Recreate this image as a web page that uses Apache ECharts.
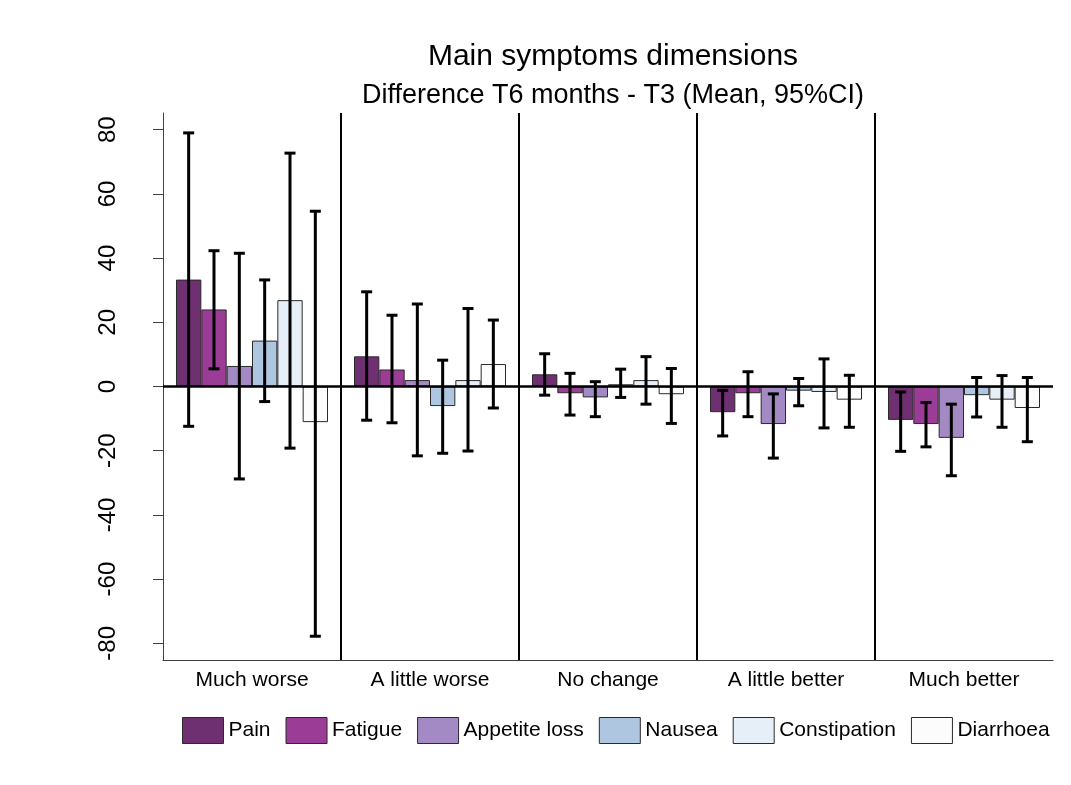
<!DOCTYPE html>
<html>
<head>
<meta charset="utf-8">
<script src="https://cdn.jsdelivr.net/npm/echarts@6/dist/echarts.min.js"></script>
<style>
  html, body { margin: 0; padding: 0; background: #fff; }
  #main-chart { width: 1071px; height: 785px; }
</style>
</head>
<body>
<div id="main-chart"></div>
<script>
const categories = ['Much worse', 'A little worse', 'No change', 'A little better', 'Much better'];
const symptoms = ['Pain', 'Fatigue', 'Appetite loss', 'Nausea', 'Constipation', 'Diarrhoea'];
const colors = ['#6e3070', '#9b3d96', '#a48ac4', '#aec6e0', '#e6eef7', '#fcfcfc'];
const yTicks = [-80, -60, -40, -20, 0, 20, 40, 60, 80];

// means
const pain = [33.3, 9.4, 3.8, -8.0, -10.4];
const fatigue = [24.0, 5.3, -2.1, -2.1, -11.7];
const appetite = [6.4, 2.0, -3.4, -11.7, -16.0];
const nausea = [14.3, -6.1, 0.7, -1.3, -2.7];
const constipation = [26.9, 2.0, 2.0, -1.7, -4.1];
const diarrhoea = [-11.1, 7.0, -2.4, -4.1, -6.7];

// 95% CI bounds
const painLo = [-12.4, -10.5, -2.7, -15.4, -20.2];
const painHi = [79.0, 29.5, 10.2, -1.2, -1.7];
const fatigueLo = [5.5, -11.3, -8.9, -9.4, -18.8];
const fatigueHi = [42.3, 22.2, 4.1, 4.6, -5.0];
const appetiteLo = [-28.8, -21.6, -9.4, -22.3, -27.8];
const appetiteHi = [41.5, 25.7, 1.5, -2.3, -5.5];
const nauseaLo = [-4.7, -20.8, -3.4, -6.0, -9.5];
const nauseaHi = [33.2, 8.2, 5.4, 2.5, 2.8];
const constipationLo = [-19.2, -20.1, -5.5, -12.9, -12.7];
const constipationHi = [72.7, 24.3, 9.3, 8.6, 3.4];
const diarrhoeaLo = [-77.8, -6.7, -11.5, -12.7, -17.2];
const diarrhoeaHi = [54.6, 20.7, 5.6, 3.5, 2.8];

const means = [pain, fatigue, appetite, nausea, constipation, diarrhoea];
const lows = [painLo, fatigueLo, appetiteLo, nauseaLo, constipationLo, diarrhoeaLo];
const highs = [painHi, fatigueHi, appetiteHi, nauseaHi, constipationHi, diarrhoeaHi];

const CAT_GAP = 0.146;
const FONT = '"Liberation Sans", Arial, sans-serif';

function errorBar(k) {
  return function (params, api) {
    const c = api.value(0);
    const lo = api.coord([c, api.value(1)]);
    const hi = api.coord([c, api.value(2)]);
    const band = api.size([1, 0])[0];
    const bw = band * (1 - CAT_GAP) / symptoms.length;
    const x = lo[0] + (k - (symptoms.length - 1) / 2) * bw;
    const cap = 5.5;
    const style = { stroke: '#000', lineWidth: 3 };
    return {
      type: 'group',
      children: [
        { type: 'line', shape: { x1: x, y1: lo[1], x2: x, y2: hi[1] }, style: style },
        { type: 'line', shape: { x1: x - cap, y1: lo[1], x2: x + cap, y2: lo[1] }, style: style },
        { type: 'line', shape: { x1: x - cap, y1: hi[1], x2: x + cap, y2: hi[1] }, style: style }
      ]
    };
  };
}

// vertical lines between the answer groups
function separator(params, api) {
  const band = api.size([1, 0])[0];
  const x = api.coord([api.value(0), 0])[0] - band / 2;
  const cs = params.coordSys;
  return {
    type: 'line',
    shape: { x1: x, y1: cs.y, x2: x, y2: cs.y + cs.height },
    style: { stroke: '#000', lineWidth: 2 }
  };
}

function initChart() {
  const dom = document.getElementById('main-chart');
  const myChart = echarts.init(dom, null, { renderer: 'canvas' });

  const series = [];
  symptoms.forEach(function (name, k) {
    const s = {
      name: name,
      type: 'bar',
      data: means[k],
      barGap: '0%',
      barCategoryGap: (CAT_GAP * 100) + '%',
      itemStyle: { color: colors[k], borderColor: '#2a2a2a', borderWidth: 1 },
      z: 2
    };
    if (k === 0) {
      s.markLine = {
        silent: true,
        symbol: 'none',
        label: { show: false },
        lineStyle: { color: '#000', width: 2.5, type: 'solid' },
        data: [{ yAxis: 0 }],
        z: 5
      };
    }
    series.push(s);
  });

  series.push({
    type: 'custom',
    renderItem: separator,
    data: [[1], [2], [3], [4]],
    silent: true,
    z: 3
  });

  symptoms.forEach(function (name, k) {
    series.push({
      type: 'custom',
      renderItem: errorBar(k),
      data: categories.map(function (c, i) { return [i, lows[k][i], highs[k][i]]; }),
      silent: true,
      z: 6
    });
  });

  const option = {
    animation: false,
    textStyle: { fontFamily: FONT },
    title: [
      {
        text: 'Main symptoms dimensions',
        left: 608,
        top: 37,
        textAlign: 'center',
        textStyle: { fontFamily: FONT, fontSize: 30, fontWeight: 'normal', color: '#000' }
      },
      {
        text: 'Difference T6 months - T3 (Mean, 95%CI)',
        left: 608,
        top: 77,
        textAlign: 'center',
        textStyle: { fontFamily: FONT, fontSize: 27, fontWeight: 'normal', color: '#000' }
      }
    ],
    legend: {
      data: symptoms,
      left: 182,
      top: 717,
      padding: 0,
      icon: 'rect',
      itemWidth: 41,
      itemHeight: 26,
      itemGap: 15,
      itemStyle: { borderColor: '#2a2a2a', borderWidth: 1 },
      textStyle: { fontFamily: FONT, fontSize: 21, color: '#000' }
    },
    grid: {
      left: 163,
      right: 18,
      top: 113,
      bottom: 125,
      containLabel: false
    },
    xAxis: {
      type: 'category',
      data: categories,
      axisLine: { onZero: false, lineStyle: { color: '#404040', width: 1 } },
      axisTick: { show: false },
      axisLabel: { fontFamily: FONT, fontSize: 21, color: '#000', margin: 10 },
      splitLine: { show: false }
    },
    yAxis: {
      type: 'value',
      min: -85.2,
      max: 85.2,
      axisLine: { show: true, lineStyle: { color: '#404040', width: 1 } },
      axisTick: { show: true, length: 10, customValues: yTicks, lineStyle: { color: '#404040' } },
      axisLabel: { fontFamily: FONT, fontSize: 24, color: '#000', rotate: 90, margin: 43, customValues: yTicks },
      splitLine: { show: false }
    },
    series: series
  };
  if (option && typeof option === 'object') {
    myChart.setOption(option, true);
  }
}

initChart();
</script>
</body>
</html>
